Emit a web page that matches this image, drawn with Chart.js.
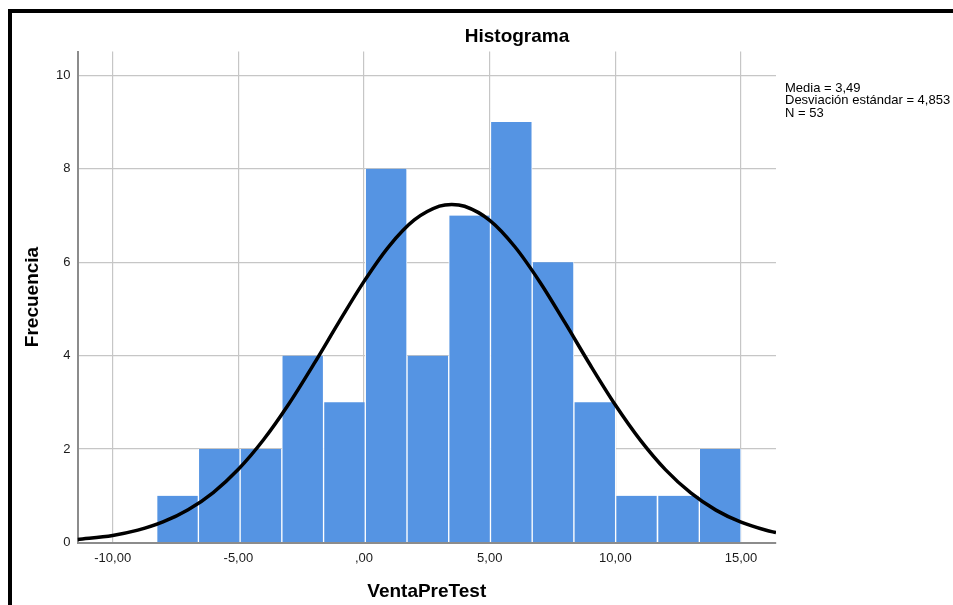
<!DOCTYPE html>
<html>
<head>
<meta charset="utf-8">
<script src="https://cdn.jsdelivr.net/npm/chart.js@4/dist/chart.umd.min.js"></script>
<style>
	html, body { margin: 0; padding: 0; background: #fff; }
	body { width: 953px; height: 605px; position: relative; overflow: hidden; font-family: 'Liberation Sans', Arial, sans-serif; }
	#frame { position: absolute; left: 8px; top: 9px; width: 960px; height: 620px; border-top: 4px solid #000; border-left: 4px solid #000; }
	#wrap { position: absolute; left: 0; top: 0; width: 953px; height: 605px; }
	#title { position: absolute; left: 417px; width: 200px; top: 25.5px; text-align: center; font: bold 19px/19px 'Liberation Sans', Arial, sans-serif; color: #000; }
	#stats { position: absolute; left: 785px; top: 81.5px; font: 13px/12.5px 'Liberation Sans', Arial, sans-serif; color: #000; white-space: pre; }
</style>
</head>
<body>
<div id="frame"></div>
<div id="wrap"><canvas id="myChart" width="953" height="605"></canvas></div>
<div id="title">Histograma</div>
<div id="stats">Media = 3,49
Desviación estándar = 4,853
N = 53</div>
<script>
// histogram bins (centres) and counts
const binCenters = [-7.42, -5.76, -4.10, -2.44, -0.78, 0.88, 2.54, 4.20, 5.86, 7.52, 9.18, 10.84, 12.51, 14.17]
const binCounts = [1, 2, 2, 4, 3, 8, 4, 7, 9, 6, 3, 1, 1, 2]

// normal curve
const curveX = [-11.40, -10, -9, -8, -7, -6, -5, -4, -3, -2, -1, 0, 1, 2, 3, 3.49, 4, 5, 6, 7, 8, 9, 10, 11, 12, 13, 14, 15, 16, 16.39]
const curveY = [0.066, 0.152, 0.264, 0.439, 0.700, 1.070, 1.567, 2.199, 2.959, 3.817, 4.717, 5.589, 6.345, 6.904, 7.200, 7.237, 7.197, 6.896, 6.331, 5.572, 4.700, 3.799, 2.943, 2.186, 1.555, 1.061, 0.693, 0.435, 0.261, 0.211]

const xTicks = [-10, -5, 0, 5, 10, 15]
const xTickLabels = ['-10,00', '-5,00', ',00', '5,00', '10,00', '15,00']
const yTicks = [0, 2, 4, 6, 8, 10]
const yTickLabels = ['0', '2', '4', '6', '8', '10']

const fontFamily = "'Liberation Sans', Arial, sans-serif"

const ctx = document.getElementById('myChart')
var chart = new Chart(ctx, {
	type: 'bar',
	data: {
		datasets: [{
			type: 'line',
			label: 'Normal',
			data: curveX.map((x, i) => ({ x: x, y: curveY[i] })),
			borderColor: '#000',
			borderWidth: 3.5,
			pointRadius: 0,
			fill: false,
			cubicInterpolationMode: 'monotone',
			order: 0
		}, {
			type: 'bar',
			label: 'Frecuencia',
			data: binCenters.map((x, i) => ({ x: x, y: binCounts[i] })),
			backgroundColor: '#5594e3',
			borderColor: '#ffffff',
			borderWidth: { left: 1, right: 1, top: 0, bottom: 0 },
			borderSkipped: false,
			barPercentage: 1,
			categoryPercentage: 1,
			order: 1
		}]
	},
	options: {
		responsive: false,
		animation: false,
		layout: {
			padding: { left: 0, top: 51.5, right: 177, bottom: 0 }
		},
		plugins: {
			legend: { display: false },
			tooltip: { enabled: false }
		},
		scales: {
			x: {
				type: 'linear',
				min: -11.40,
				max: 16.39,
				offset: false,
				afterBuildTicks: function (scale) {
					scale.ticks = xTicks.map(v => ({ value: v }))
				},
				afterFit: function (scale) {
					scale.height = 62.5
				},
				grid: {
					color: '#c6c6c6',
					lineWidth: 1.2,
					offset: false,
					drawTicks: false
				},
				border: { display: true, color: '#8c8c8c', width: 2 },
				ticks: {
					padding: 8,
					color: '#1a1a1a',
					maxRotation: 0,
					font: { family: fontFamily, size: 13 },
					callback: function (value, index) {
						return xTickLabels[index]
					}
				},
				title: {
					display: true,
					text: 'VentaPreTest',
					color: '#000',
					padding: { top: 0, bottom: 2 },
					font: { family: fontFamily, size: 19, weight: 'bold' }
				}
			},
			y: {
				min: 0,
				max: 10.51,
				afterBuildTicks: function (scale) {
					scale.ticks = yTicks.map(v => ({ value: v }))
				},
				afterFit: function (scale) {
					scale.width = 77.5
				},
				grid: {
					color: '#c6c6c6',
					lineWidth: 1.2,
					drawTicks: false
				},
				border: { display: true, color: '#8c8c8c', width: 2 },
				ticks: {
					padding: 7,
					color: '#1a1a1a',
					font: { family: fontFamily, size: 13 },
					callback: function (value, index) {
						return yTickLabels[index]
					}
				},
				title: {
					display: true,
					text: 'Frecuencia',
					color: '#000',
					padding: { top: 21, bottom: 0 },
					font: { family: fontFamily, size: 19, weight: 'bold' }
				}
			}
		}
	}
})
</script>
</body>
</html>
